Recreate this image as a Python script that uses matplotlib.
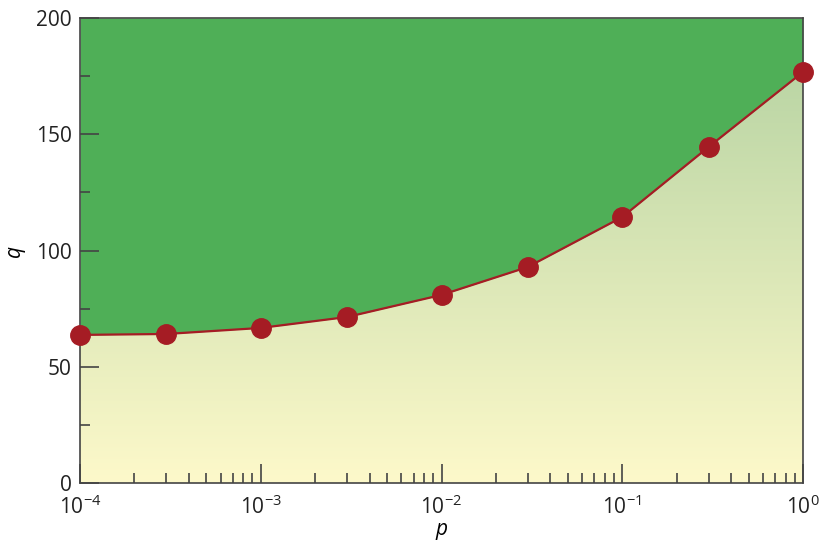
import numpy as np
import matplotlib
matplotlib.use('Agg')
import matplotlib.pyplot as plt
from matplotlib.ticker import MultipleLocator, LogLocator, NullFormatter

plt.rcParams['font.family'] = ['Open Sans', 'DejaVu Sans']
plt.rcParams['mathtext.fontset'] = 'custom'
plt.rcParams['mathtext.rm'] = 'Open Sans'
plt.rcParams['mathtext.it'] = 'Open Sans:italic'
plt.rcParams['mathtext.default'] = 'regular'

p = [1e-4, 3e-4, 1e-3, 3e-3, 1e-2, 3e-2, 1e-1, 3e-1, 1.0]
q = [63.7, 64.1, 66.7, 71.4, 80.9, 92.9, 114.4, 144.5, 176.8]

green = '#4faf57'
red = '#a51c24'
frame = '#444444'

fig = plt.figure(figsize=(8.19, 5.44), dpi=100)
ax = fig.add_axes([0.0977, 0.1121, 0.8828, 0.8548])
ax.set_xscale('log')
ax.set_xlim(1e-4, 1)
ax.set_ylim(0, 200)
ax.set_axisbelow(False)

# gradient under the curve, yellow at the bottom to pale green at the top
bottom = np.array([253, 249, 202]) / 255
top = np.array([178, 209, 160]) / 255
t = np.linspace(0, 1, 256)[:, None]
grad = (bottom + (top - bottom) * t)[:, None, :]
img = ax.imshow(grad, extent=(1e-4, 1, 0, 200), origin='lower', aspect='auto', zorder=1)
poly = ax.fill_between(p, 0, q, color='none', zorder=0)
img.set_clip_path(poly.get_paths()[0], transform=ax.transData)

ax.fill_between(p, q, 200, color=green, lw=0, zorder=2)
ax.plot(p, q, color=red, lw=1.6, marker='o', ms=14, mec=red, mfc=red,
        zorder=5, clip_on=False)

for s in ['top', 'right', 'left', 'bottom']:
    ax.spines[s].set_color(frame)
    ax.spines[s].set_linewidth(1.2)
    ax.spines[s].set_zorder(4)

ax.yaxis.set_major_locator(MultipleLocator(50))
ax.yaxis.set_minor_locator(MultipleLocator(25))
ax.xaxis.set_major_locator(LogLocator(base=10, numticks=10))
ax.xaxis.set_minor_locator(LogLocator(base=10, subs=np.arange(2, 10), numticks=20))
ax.xaxis.set_minor_formatter(NullFormatter())

ax.tick_params(which='both', direction='in', color=frame, width=1.2,
               top=False, right=False, labelsize=15, labelcolor='#222222')
ax.tick_params(which='major', length=14, pad=6)
ax.tick_params(which='minor', length=7)
ax.tick_params(axis='x', which='major', pad=9)

ax.set_xlabel('p', fontsize=15, style='italic', labelpad=0)
ax.set_ylabel('q', fontsize=15, style='italic', labelpad=8)

fig.savefig('out.png', dpi=100)
